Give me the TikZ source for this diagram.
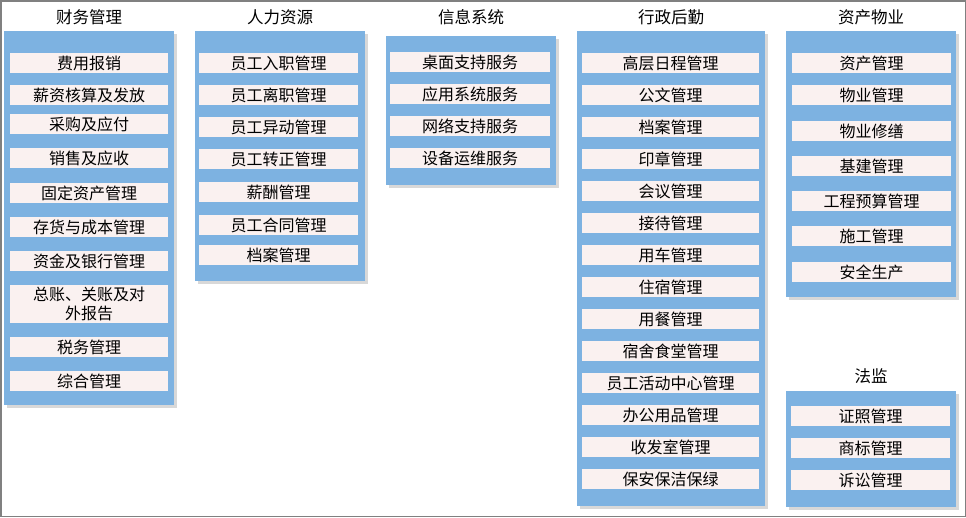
\documentclass[tikz,border=0pt]{standalone}
\usepackage{fontspec}
\setmainfont{Noto Sans CJK SC}
\usetikzlibrary{shadows}
\definecolor{outerblue}{HTML}{7DB2E1}
\definecolor{itempink}{HTML}{FAF1F0}
\definecolor{frameg}{HTML}{808080}
\tikzset{
  outerbox/.style={fill=outerblue, draw=none, anchor=north west, inner sep=0pt,
    drop shadow={shadow xshift=3pt, shadow yshift=-3pt, opacity=0.3, fill=black!50}},
  itembox/.style={fill=itempink, draw=none, anchor=north west, inner sep=0pt,
    minimum height=20pt, font=\fontsize{16}{19}\selectfont, text=black},
  coltitle/.style={font=\fontsize{16.5}{18}\selectfont, text=black, inner sep=0pt},
}
\newcommand{\itemrow}[5]{\node[itembox, minimum width=#4pt] (#1) at (#2,#3) {#5};}
\begin{document}
\begin{tikzpicture}[x=1pt,y=-1pt]
\useasboundingbox (0,0) rectangle (966,517);
\fill[white] (0,0) rectangle (966,517);
\draw[frameg, line width=1.5pt] (0.75,0.75) rectangle (965.25,516.25);

% Column 1
\node[coltitle] (t1) at (89,17) {财务管理};
\node[outerbox, minimum width=170pt, minimum height=374pt] (c1) at (4,31) {};
\itemrow{a1}{10}{53}{158}{费用报销}
\itemrow{a2}{10}{85}{158}{薪资核算及发放}
\itemrow{a3}{10}{114}{158}{采购及应付}
\itemrow{a4}{10}{148}{158}{销售及应收}
\itemrow{a5}{10}{183}{158}{固定资产管理}
\itemrow{a6}{10}{217}{158}{存货与成本管理}
\itemrow{a7}{10}{251}{158}{资金及银行管理}
\node[itembox, minimum width=158pt, minimum height=38pt, align=center] (a8) at (10,285) {总账、关账及对\\外报告};
\itemrow{a9}{10}{337}{158}{税务管理}
\itemrow{a10}{10}{371}{158}{综合管理}

% Column 2
\node[coltitle] (t2) at (280,17) {人力资源};
\node[outerbox, minimum width=170pt, minimum height=250pt] (c2) at (195,31) {};
\itemrow{b1}{199}{53}{159}{员工入职管理}
\itemrow{b2}{199}{85}{159}{员工离职管理}
\itemrow{b3}{199}{117}{159}{员工异动管理}
\itemrow{b4}{199}{149}{159}{员工转正管理}
\itemrow{b5}{199}{182}{159}{薪酬管理}
\itemrow{b6}{199}{215}{159}{员工合同管理}
\itemrow{b7}{199}{245}{159}{档案管理}

% Column 3
\node[coltitle] (t3) at (471,17) {信息系统};
\node[outerbox, minimum width=170pt, minimum height=149pt] (c3) at (386,36) {};
\itemrow{s1}{390}{52}{160}{桌面支持服务}
\itemrow{s2}{390}{84}{160}{应用系统服务}
\itemrow{s3}{390}{116}{160}{网络支持服务}
\itemrow{s4}{390}{148}{160}{设备运维服务}

% Column 4
\node[coltitle] (t4) at (671,17) {行政后勤};
\node[outerbox, minimum width=188pt, minimum height=475pt] (c4) at (577,31) {};
\itemrow{d1}{582}{53}{177}{高层日程管理}
\itemrow{d2}{582}{85}{177}{公文管理}
\itemrow{d3}{582}{117}{177}{档案管理}
\itemrow{d4}{582}{149}{177}{印章管理}
\itemrow{d5}{582}{181}{177}{会议管理}
\itemrow{d6}{582}{213}{177}{接待管理}
\itemrow{d7}{582}{245}{177}{用车管理}
\itemrow{d8}{582}{277}{177}{住宿管理}
\itemrow{d9}{582}{309}{177}{用餐管理}
\itemrow{d10}{582}{341}{177}{宿舍食堂管理}
\itemrow{d11}{582}{373}{177}{员工活动中心管理}
\itemrow{d12}{582}{405}{177}{办公用品管理}
\itemrow{d13}{582}{437}{177}{收发室管理}
\itemrow{d14}{582}{469}{177}{保安保洁保绿}

% Column 5
\node[coltitle] (t5) at (871,17) {资产物业};
\node[outerbox, minimum width=170pt, minimum height=266pt] (c5) at (786,31) {};
\itemrow{e1}{792}{53}{159}{资产管理}
\itemrow{e2}{792}{85}{159}{物业管理}
\itemrow{e3}{792}{121}{159}{物业修缮}
\itemrow{e4}{792}{156}{159}{基建管理}
\itemrow{e5}{792}{191}{159}{工程预算管理}
\itemrow{e6}{792}{226}{159}{施工管理}
\itemrow{e7}{792}{262}{159}{安全生产}

% Column 6
\node[coltitle] (t6) at (871,376) {法监};
\node[outerbox, minimum width=170pt, minimum height=116pt] (c6) at (786,391) {};
\itemrow{f1}{791}{406}{159}{证照管理}
\itemrow{f2}{791}{438}{159}{商标管理}
\itemrow{f3}{791}{470}{159}{诉讼管理}
\end{tikzpicture}
\end{document}
